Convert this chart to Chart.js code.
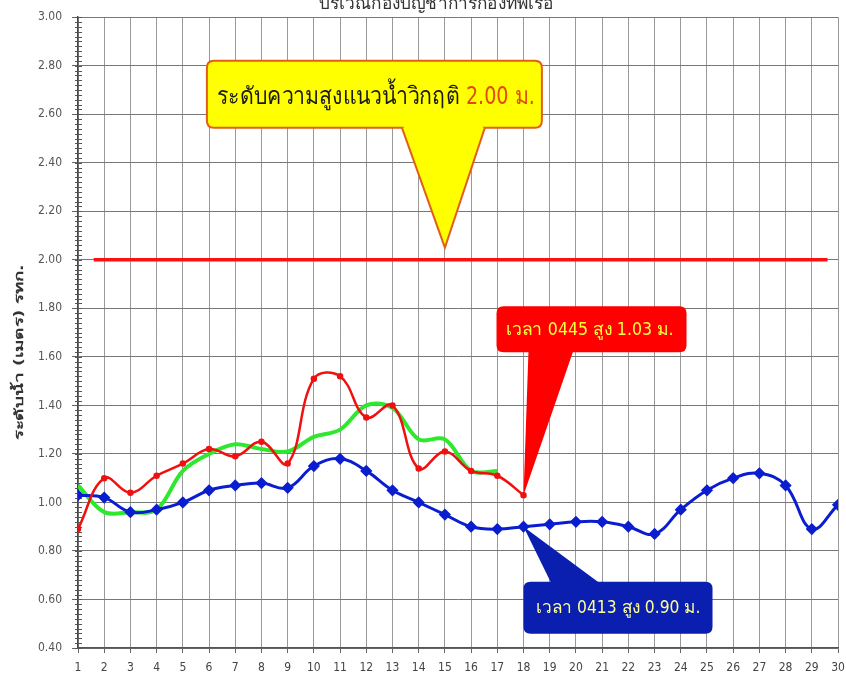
<!DOCTYPE html>
<html>
<head>
<meta charset="utf-8">
<script src="https://cdn.jsdelivr.net/npm/chart.js@4.4.1/dist/chart.umd.min.js"></script>
<style>
  html, body { margin: 0; padding: 0; background: #fff; }
  #wrap { width: 846px; height: 684px; }
</style>
</head>
<body>
<div id="wrap"><canvas id="tideChart" width="846" height="684"></canvas></div>
<script>
const days = [1, 2, 3, 4, 5, 6, 7, 8, 9, 10, 11, 12, 13, 14, 15, 16, 17, 18, 19, 20, 21, 22, 23, 24, 25, 26, 27, 28, 29, 30];

// blue: forecast level (whole month)
const forecastLevel = [1.03, 1.02, 0.96, 0.97, 1.00, 1.05, 1.07, 1.08, 1.06, 1.15, 1.18, 1.13, 1.05, 1.00, 0.95,
                       0.90, 0.89, 0.90, 0.91, 0.92, 0.92, 0.90, 0.87, 0.97, 1.05, 1.10, 1.12, 1.07, 0.89, 0.99];
// red: observed level (up to day 18)
const observedLevel = [0.89, 1.10, 1.04, 1.11, 1.16, 1.22, 1.19, 1.25, 1.16, 1.51, 1.52, 1.35, 1.40, 1.14, 1.21, 1.13, 1.11, 1.03];
// green: second observed series (up to day 17)
const compareLevel = [1.07, 0.96, 0.96, 0.97, 1.13, 1.20, 1.24, 1.22, 1.21, 1.27, 1.30, 1.40, 1.39, 1.26, 1.26, 1.13, 1.13];

const criticalLevel = 2.00;
const criticalFrom = 1.6, criticalTo = 29.6;

const yTicks = { min: 0.4, max: 3.0, step: 0.2, minor: 0.02 };

const chartTitle = 'บริเวณกองบัญชาการกองทัพเรือ';
const yTitle = 'ระดับน้ำ (เมตร) รทก.';
const criticalText = 'ระดับความสูงแนวน้ำวิกฤติ ';
const criticalValueText = '2.00 ม.';
const observedNote = 'เวลา 0445 สูง 1.03 ม.';
const forecastNote = 'เวลา 0413 สูง 0.90 ม.';

const FONT = "'Liberation Sans Narrow', 'DejaVu Sans Condensed', 'Noto Sans', sans-serif";

function toPoints(values) {
    return values.map((v, i) => ({ x: days[i], y: v }));
}

function roundRect(ctx, x, y, w, h, r) {
    ctx.beginPath();
    ctx.moveTo(x + r, y);
    ctx.lineTo(x + w - r, y);
    ctx.quadraticCurveTo(x + w, y, x + w, y + r);
    ctx.lineTo(x + w, y + h - r);
    ctx.quadraticCurveTo(x + w, y + h, x + w - r, y + h);
    ctx.lineTo(x + r, y + h);
    ctx.quadraticCurveTo(x, y + h, x, y + h - r);
    ctx.lineTo(x, y + r);
    ctx.quadraticCurveTo(x, y, x + r, y);
    ctx.closePath();
}

// text squeezed to a given width, like the narrow font of the original
function fitText(ctx, text, x, y, width, font, color) {
    ctx.save();
    ctx.font = font;
    ctx.fillStyle = color;
    ctx.textBaseline = 'middle';
    ctx.textAlign = 'left';
    const w = ctx.measureText(text).width;
    ctx.translate(x, y);
    ctx.scale(width / w, 1);
    ctx.fillText(text, 0, 0);
    ctx.restore();
}

// callout: box + pointer to a tip
function callout(ctx, tip, box, base, fill, stroke) {
    ctx.save();
    ctx.fillStyle = fill;
    ctx.strokeStyle = stroke;
    ctx.lineWidth = 2;
    roundRect(ctx, box.x, box.y, box.w, box.h, 7);
    ctx.fill();
    if (stroke) ctx.stroke();
    ctx.beginPath();
    ctx.moveTo(base[0], base[2]);
    ctx.lineTo(tip.x, tip.y);
    ctx.lineTo(base[1], base[2]);
    ctx.closePath();
    ctx.fill();
    if (stroke) {
        ctx.beginPath();
        ctx.moveTo(base[0], base[2]);
        ctx.lineTo(tip.x, tip.y);
        ctx.lineTo(base[1], base[2]);
        ctx.stroke();
        // cover the box border under the pointer
        ctx.fillRect(base[0] + 2, base[2] - 3, base[1] - base[0] - 4, 5);
    }
    ctx.restore();
}

const extras = {
    id: 'extras',
    beforeDatasetsDraw(chart) {
        const ctx = chart.ctx;
        const y = chart.scales.y, x = chart.scales.x;
        // minor ticks on the value axis
        ctx.save();
        ctx.strokeStyle = '#555';
        ctx.lineWidth = 1;
        ctx.beginPath();
        for (let v = yTicks.min; v <= yTicks.max + 1e-6; v += yTicks.minor) {
            const py = Math.round(y.getPixelForValue(v)) + 0.5;
            ctx.moveTo(x.left - 3, py);
            ctx.lineTo(x.left + 4, py);
        }
        ctx.stroke();
        ctx.restore();
    },
    afterDatasetsDraw(chart) {
        const ctx = chart.ctx;
        const xs = chart.scales.x, ys = chart.scales.y;

        // title, cut off at the top edge as in the original
        ctx.save();
        ctx.font = "17px " + FONT;
        ctx.fillStyle = '#333';
        ctx.textAlign = 'center';
        ctx.textBaseline = 'alphabetic';
        const tw = ctx.measureText(chartTitle).width;
        ctx.translate(436, 9);
        ctx.scale(235 / tw, 1);
        ctx.fillText(chartTitle, 0, 0);
        ctx.restore();

        // y axis title
        ctx.save();
        ctx.translate(20, 352);
        ctx.rotate(-Math.PI / 2);
        ctx.font = "bold 12px " + FONT;
        ctx.fillStyle = '#333';
        ctx.textAlign = 'center';
        ctx.textBaseline = 'middle';
        const yw = ctx.measureText(yTitle).width;
        ctx.scale(175 / yw, 1);
        ctx.fillText(yTitle, 0, 0);
        ctx.restore();

        // critical level callout
        let t = { x: xs.getPixelForValue(15), y: ys.getPixelForValue(2.05) };
        callout(ctx, t, { x: t.x - 238, y: t.y - 187, w: 335, h: 67 },
                [t.x - 43, t.x + 40, t.y - 120], '#ffff00', '#e0601a');
        ctx.save();
        ctx.font = "24px " + FONT;
        const w1 = ctx.measureText(criticalText).width;
        const w2 = ctx.measureText(criticalValueText).width;
        ctx.restore();
        const scale1 = 318 / (w1 + w2);
        fitText(ctx, criticalText, t.x - 228, t.y - 150, w1 * scale1, "24px " + FONT, '#1a1a1a');
        fitText(ctx, criticalValueText, t.x - 228 + w1 * scale1, t.y - 150, w2 * scale1, "24px " + FONT, '#e04a0a');

        // last observed point
        const nObs = observedLevel.length - 1;
        t = { x: xs.getPixelForValue(days[nObs]), y: ys.getPixelForValue(observedLevel[nObs]) };
        callout(ctx, t, { x: t.x - 27, y: t.y - 189, w: 190, h: 46 },
                [t.x + 5, t.x + 50, t.y - 145], '#ff0000', null);
        fitText(ctx, observedNote, t.x - 18, t.y - 165, 168, "17px " + FONT, '#ffff40');

        // forecast point of the same day
        t = { x: xs.getPixelForValue(days[nObs]), y: ys.getPixelForValue(forecastLevel[nObs]) };
        callout(ctx, t, { x: t.x, y: t.y + 55, w: 189, h: 52 },
                [t.x + 28, t.x + 77, t.y + 57], '#0a1eb0', null);
        fitText(ctx, forecastNote, t.x + 12, t.y + 82, 165, "17px " + FONT, '#ffff99');
    }
};

const ctx = document.getElementById('tideChart').getContext('2d');
new Chart(ctx, {
    type: 'line',
    data: {
        datasets: [
            {
                label: 'critical',
                data: [{ x: criticalFrom, y: criticalLevel }, { x: criticalTo, y: criticalLevel }],
                borderColor: '#ff1010',
                borderWidth: 3.5,
                pointRadius: 0,
                order: 4
            },
            {
                label: 'compare',
                data: toPoints(compareLevel),
                borderColor: '#2ee82e',
                borderWidth: 4,
                pointRadius: 0,
                tension: 0.35,
                order: 3
            },
            {
                label: 'forecast',
                data: toPoints(forecastLevel),
                borderColor: '#0a1ed0',
                backgroundColor: '#0a1ed0',
                borderWidth: 3,
                pointStyle: 'rectRot',
                pointRadius: 4,
                tension: 0.4,
                order: 2
            },
            {
                label: 'observed',
                data: toPoints(observedLevel),
                borderColor: '#f01010',
                backgroundColor: '#f01010',
                borderWidth: 2.5,
                pointRadius: 2,
                tension: 0.4,
                order: 1
            }
        ]
    },
    options: {
        responsive: false,
        animation: false,
        layout: { padding: { top: 14, right: 0, left: 0, bottom: 0 } },
        plugins: { legend: { display: false }, tooltip: { enabled: false } },
        scales: {
            x: {
                type: 'linear',
                min: 1,
                max: 30,
                afterFit: s => { s.height = 36; s.paddingRight = 8; },
                ticks: { stepSize: 1, color: '#444', font: { family: FONT, size: 12 }, padding: 8, maxRotation: 0 },
                grid: { color: '#999', lineWidth: 1, tickLength: 5, tickColor: '#666' },
                border: { color: '#555', width: 1.5 }
            },
            y: {
                min: yTicks.min,
                max: yTicks.max,
                afterFit: s => { s.width = 78; },
                ticks: {
                    stepSize: yTicks.step,
                    color: '#555',
                    font: { family: FONT, size: 12 },
                    padding: 10,
                    callback: v => v.toFixed(2)
                },
                grid: { color: '#777', lineWidth: 1, tickLength: 6, tickColor: '#666' },
                border: { color: '#444', width: 1.5 }
            }
        }
    },
    plugins: [extras]
});
</script>
</body>
</html>
